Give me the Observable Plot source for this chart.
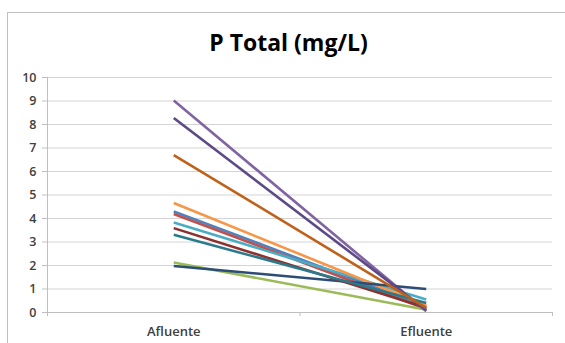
<!DOCTYPE html>
<html>
<head>
<meta charset="utf-8">
<script src="https://cdn.jsdelivr.net/npm/d3@7"></script>
<script src="https://cdn.jsdelivr.net/npm/@observablehq/plot@0.6"></script>
<style>
  html, body { margin: 0; padding: 0; background: #fff; }
  #wrap { position: relative; width: 565px; height: 343px; overflow: hidden; }
  #frame { position: absolute; left: 7px; top: 12px; width: 600px; height: 400px; border: 1px solid #c0c0c0; box-sizing: border-box; }
  #title { position: absolute; left: 6px; width: 565px; top: 26px; text-align: center;
           font-family: "Open Sans", sans-serif; font-weight: bold; font-size: 23px; line-height: 32px; color: #000; }
  #chart { position: absolute; left: 0; top: 0; }
</style>
</head>
<body>
<div id="wrap">
  <div id="frame"></div>
  <div id="chart"></div>
  <div id="title">P Total (mg/L)</div>
</div>
<script>
const categories = ["Afluente", "Efluente"];
const seriesNames = ["S1","S2","S3","S4","S5","S6","S7","S8","S10","S11","S12"];
const seriesColors = ["#4F81BD","#C0504D","#9BBB59","#8064A2","#4BACC6","#F79646","#2C4D75","#8B3230","#5C4A87","#2A7A8C","#C0611A"];
const afluente = [4.30, 4.19, 2.13, 9.02, 3.83, 4.66, 1.98, 3.59, 8.28, 3.31, 6.70];
const efluente = [0.25, 0.15, 0.12, 0.05, 0.55, 0.30, 1.00, 0.20, 0.10, 0.40, 0.20];
const yTicks = [0,1,2,3,4,5,6,7,8,9,10];

const rows = [];
seriesNames.forEach((s, i) => {
  rows.push({series: s, pos: 0.5, value: afluente[i]});
  rows.push({series: s, pos: 1.5, value: efluente[i]});
});

const font = "'Open Sans', sans-serif";
const plot = Plot.plot({
  width: 565,
  height: 343,
  marginLeft: 47,
  marginRight: 13,
  marginTop: 77,
  marginBottom: 31,
  style: {fontFamily: font, fontSize: "12px", color: "#404040", background: "transparent"},
  x: {type: "linear", domain: [0, categories.length], axis: null},
  y: {domain: [0, 10], axis: null},
  color: {domain: seriesNames, range: seriesColors},
  marks: [
    Plot.gridY(yTicks, {stroke: "#d4d4d4", strokeOpacity: 1, strokeWidth: 1}),
    Plot.axisY(yTicks, {tickSize: 5, tickPadding: 6, stroke: "#bfbfbf", fontSize: 12.5, fontWeight: 600, fill: "#404040", label: null}),
    Plot.ruleX([0], {stroke: "#bfbfbf"}),
    Plot.ruleY([0], {stroke: "#bfbfbf"}),
    Plot.axisX(d3.range(categories.length + 1), {tickSize: 4, stroke: "#bfbfbf", tickFormat: () => "", label: null}),
    Plot.axisX(categories.map((c, i) => i + 0.5), {tickSize: 0, tickPadding: 14, fontSize: 13, fontWeight: 600, fill: "#404040", tickFormat: d => categories[d - 0.5], label: null}),
    Plot.line(rows, {x: "pos", y: "value", z: "series", stroke: "series", strokeWidth: 2.6, strokeLinecap: "butt"})
  ]
});
document.getElementById("chart").appendChild(plot);
</script>
</body>
</html>
